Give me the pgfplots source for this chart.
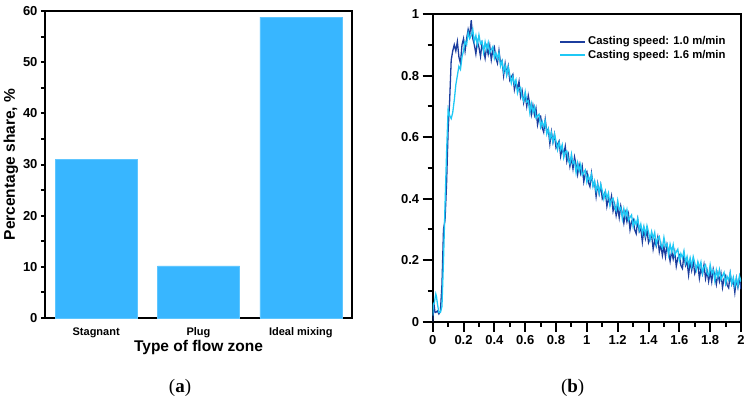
\documentclass[border=0pt]{standalone}
\usepackage{fontspec}
\setmainfont{Liberation Sans}
\newfontfamily\capfont{Liberation Serif}
\usepackage{pgfplots}
\pgfplotsset{compat=1.18}
\definecolor{barblue}{HTML}{38B6FF}
\definecolor{baredge}{HTML}{5EC6FF}
\definecolor{darkline}{HTML}{1C3E9E}
\definecolor{cyanline}{HTML}{1FC8F5}
\begin{document}
\begin{tikzpicture}[x=1pt,y=1pt]
\path[use as bounding box] (0,0) rectangle (751,407);
% ---------------- (b) ----------------
\begin{axis}[
  at={(432.7pt,85.3pt)}, anchor=south west,
  scale only axis, width=308.3pt, height=307.7pt,
  xmin=0, xmax=2, ymin=0, ymax=1,
  xtick={0,0.2,0.4,0.6,0.8,1,1.2,1.4,1.6,1.8,2},
  ytick={0,0.2,0.4,0.6,0.8,1},
  minor x tick num=1, minor y tick num=1,
  tick pos=left, tick align=outside,
  major tick length=10pt, minor tick length=5pt,
  tick style={black, line width=2pt},
  axis line style={line width=1.8pt},
  /pgf/number format/assume math mode=true,
  xticklabel style={font=\bfseries\fontsize{13}{15}\selectfont},
  yticklabel style={font=\bfseries\fontsize{13}{15}\selectfont},
  legend style={at={(rel axis cs:0.40,0.94)}, anchor=north west, draw=none, fill=none,
    font=\bfseries\fontsize{11.3}{13}\selectfont},
  legend cell align=left,
  legend image code/.code={\draw[#1, line width=2pt] (0pt,0pt) -- (25pt,0pt);},
]
\addplot[darkline, line width=1.3pt] coordinates {
(0,0) (0.005,0.04) (0.01,0.05) (0.015,0.03) (0.02,0.03) (0.03,0.035) (0.04,0.025) (0.05,0.035) (0.06,0.12) (0.07,0.30) (0.08,0.33) (0.09,0.45)
(0.10,0.62) (0.11,0.72) (0.12,0.85) (0.13,0.88) (0.14,0.90) (0.15,0.88) (0.16,0.91) (0.17,0.86) (0.18,0.84) (0.19,0.90)
(0.20,0.92) (0.21,0.88) (0.22,0.92) (0.23,0.95) (0.24,0.93) (0.25,0.98) (0.26,0.92) (0.27,0.90) (0.28,0.87) (0.29,0.91)
(0.30,0.892) (0.31,0.862) (0.32,0.904) (0.33,0.883) (0.34,0.856) (0.35,0.893) (0.36,0.869) (0.37,0.897) (0.38,0.851) (0.39,0.882)
(0.40,0.893) (0.41,0.856) (0.42,0.840) (0.43,0.881) (0.44,0.840) (0.45,0.848) (0.46,0.800) (0.47,0.839) (0.48,0.805) (0.49,0.830)
(0.50,0.785) (0.51,0.796) (0.52,0.804) (0.53,0.754) (0.54,0.778) (0.55,0.757) (0.56,0.781) (0.57,0.731) (0.58,0.751) (0.59,0.712)
(0.60,0.737) (0.61,0.700) (0.62,0.735) (0.63,0.707) (0.64,0.673) (0.65,0.703) (0.66,0.672) (0.67,0.693) (0.68,0.640) (0.69,0.664)
(0.70,0.668) (0.71,0.631) (0.72,0.616) (0.73,0.657) (0.74,0.617) (0.75,0.625) (0.76,0.578) (0.77,0.617) (0.78,0.584) (0.79,0.609)
(0.80,0.565) (0.81,0.577) (0.82,0.587) (0.83,0.538) (0.84,0.564) (0.85,0.544) (0.86,0.570) (0.87,0.521) (0.88,0.543) (0.89,0.505)
(0.90,0.532) (0.91,0.497) (0.92,0.535) (0.93,0.509) (0.94,0.478) (0.95,0.510) (0.96,0.482) (0.97,0.505) (0.98,0.455) (0.99,0.481)
(1.00,0.488) (1.01,0.453) (1.02,0.439) (1.03,0.482) (1.04,0.443) (1.05,0.453) (1.06,0.407) (1.07,0.448) (1.08,0.416) (1.09,0.443)
(1.10,0.400) (1.11,0.413) (1.12,0.423) (1.13,0.375) (1.14,0.401) (1.15,0.382) (1.16,0.408) (1.17,0.360) (1.18,0.382) (1.19,0.345)
(1.20,0.372) (1.21,0.338) (1.22,0.376) (1.23,0.351) (1.24,0.320) (1.25,0.353) (1.26,0.325) (1.27,0.349) (1.28,0.299) (1.29,0.326)
(1.30,0.333) (1.31,0.299) (1.32,0.286) (1.33,0.330) (1.34,0.293) (1.35,0.304) (1.36,0.259) (1.37,0.301) (1.38,0.271) (1.39,0.298)
(1.40,0.257) (1.41,0.271) (1.42,0.283) (1.43,0.236) (1.44,0.264) (1.45,0.246) (1.46,0.274) (1.47,0.227) (1.48,0.251) (1.49,0.215)
(1.50,0.244) (1.51,0.211) (1.52,0.250) (1.53,0.226) (1.54,0.196) (1.55,0.230) (1.56,0.204) (1.57,0.228) (1.58,0.180) (1.59,0.207)
(1.60,0.216) (1.61,0.183) (1.62,0.173) (1.63,0.218) (1.64,0.183) (1.65,0.195) (1.66,0.152) (1.67,0.196) (1.68,0.167) (1.69,0.197)
(1.70,0.157) (1.71,0.173) (1.72,0.187) (1.73,0.141) (1.74,0.171) (1.75,0.155) (1.76,0.185) (1.77,0.140) (1.78,0.165) (1.79,0.131)
(1.80,0.162) (1.81,0.130) (1.82,0.171) (1.83,0.149) (1.84,0.121) (1.85,0.156) (1.86,0.131) (1.87,0.157) (1.88,0.111) (1.89,0.140)
(1.90,0.150) (1.91,0.119) (1.92,0.110) (1.93,0.156) (1.94,0.122) (1.95,0.136) (1.96,0.095) (1.97,0.140) (1.98,0.112) (1.99,0.143)
(2.00,0.105)
};
\addlegendentry{Casting speed: 1.0 m/min}
\addplot[cyanline, line width=1.3pt] coordinates {
(0,0.02) (0.005,0.06) (0.01,0.06) (0.02,0.09) (0.025,0.08) (0.03,0.06) (0.04,0.03) (0.05,0.03) (0.06,0.05) (0.07,0.20) (0.08,0.38) (0.09,0.55)
(0.10,0.69) (0.11,0.67) (0.12,0.66) (0.13,0.68) (0.14,0.72) (0.15,0.77) (0.16,0.80) (0.17,0.83) (0.18,0.82) (0.19,0.86)
(0.20,0.88) (0.21,0.91) (0.22,0.90) (0.23,0.94) (0.24,0.92) (0.25,0.93) (0.26,0.95) (0.27,0.91) (0.28,0.93) (0.29,0.90)
(0.30,0.932) (0.31,0.903) (0.32,0.911) (0.33,0.876) (0.34,0.909) (0.35,0.885) (0.36,0.907) (0.37,0.874) (0.38,0.884) (0.39,0.894)
(0.40,0.856) (0.41,0.874) (0.42,0.855) (0.43,0.874) (0.44,0.831) (0.45,0.847) (0.46,0.813) (0.47,0.833) (0.48,0.801) (0.49,0.828)
(0.50,0.803) (0.51,0.775) (0.52,0.797) (0.53,0.772) (0.54,0.786) (0.55,0.743) (0.56,0.760) (0.57,0.762) (0.58,0.730) (0.59,0.717)
(0.60,0.747) (0.61,0.714) (0.62,0.718) (0.63,0.679) (0.64,0.709) (0.65,0.681) (0.66,0.699) (0.67,0.662) (0.68,0.669) (0.69,0.674)
(0.70,0.633) (0.71,0.651) (0.72,0.633) (0.73,0.652) (0.74,0.610) (0.75,0.627) (0.76,0.594) (0.77,0.614) (0.78,0.583) (0.79,0.610)
(0.80,0.586) (0.81,0.559) (0.82,0.583) (0.83,0.559) (0.84,0.575) (0.85,0.533) (0.86,0.552) (0.87,0.555) (0.88,0.525) (0.89,0.513)
(0.90,0.545) (0.91,0.514) (0.92,0.521) (0.93,0.484) (0.94,0.516) (0.95,0.490) (0.96,0.511) (0.97,0.476) (0.98,0.485) (0.99,0.493)
(1.00,0.454) (1.01,0.474) (1.02,0.458) (1.03,0.479) (1.04,0.439) (1.05,0.457) (1.06,0.425) (1.07,0.447) (1.08,0.418) (1.09,0.447)
(1.10,0.425) (1.11,0.399) (1.12,0.424) (1.13,0.401) (1.14,0.418) (1.15,0.377) (1.16,0.397) (1.17,0.401) (1.18,0.372) (1.19,0.361)
(1.20,0.394) (1.21,0.364) (1.22,0.371) (1.23,0.335) (1.24,0.367) (1.25,0.342) (1.26,0.364) (1.27,0.329) (1.28,0.339) (1.29,0.347)
(1.30,0.309) (1.31,0.330) (1.32,0.315) (1.33,0.337) (1.34,0.298) (1.35,0.317) (1.36,0.287) (1.37,0.310) (1.38,0.282) (1.39,0.312)
(1.40,0.291) (1.41,0.266) (1.42,0.293) (1.43,0.271) (1.44,0.290) (1.45,0.250) (1.46,0.271) (1.47,0.277) (1.48,0.249) (1.49,0.240)
(1.50,0.274) (1.51,0.245) (1.52,0.253) (1.53,0.218) (1.54,0.251) (1.55,0.227) (1.56,0.250) (1.57,0.216) (1.58,0.227) (1.59,0.236)
(1.60,0.199) (1.61,0.221) (1.62,0.207) (1.63,0.230) (1.64,0.192) (1.65,0.212) (1.66,0.183) (1.67,0.207) (1.68,0.180) (1.69,0.211)
(1.70,0.191) (1.71,0.168) (1.72,0.195) (1.73,0.175) (1.74,0.194) (1.75,0.156) (1.76,0.178) (1.77,0.185) (1.78,0.158) (1.79,0.150)
(1.80,0.185) (1.81,0.157) (1.82,0.167) (1.83,0.133) (1.84,0.168) (1.85,0.145) (1.86,0.169) (1.87,0.137) (1.88,0.149) (1.89,0.160)
(1.90,0.124) (1.91,0.147) (1.92,0.135) (1.93,0.159) (1.94,0.123) (1.95,0.144) (1.96,0.116) (1.97,0.142) (1.98,0.116) (1.99,0.149)
(2.00,0.130)
};
\addlegendentry{Casting speed: 1.6 m/min}
\end{axis}
% ---------------- (a) ----------------
\begin{axis}[
  at={(45pt,89pt)}, anchor=south west,
  scale only axis, width=307pt, height=307pt,
  xmin=-0.5, xmax=2.5, ymin=0, ymax=60,
  xtick={0,1,2}, xticklabels={Stagnant,Plug,Ideal mixing},
  ytick={0,10,...,60}, minor y tick num=1,
  tick pos=left, tick align=outside,
  major tick length=4pt, minor tick length=4pt,
  tick style={black, line width=2pt},
  major x tick style={draw=none},
  axis line style={line width=1.8pt},
  /pgf/number format/assume math mode=true,
  yticklabel style={font=\bfseries\fontsize{13}{15}\selectfont},
  xticklabel style={font=\bfseries\fontsize{11}{13}\selectfont, yshift=-2pt},
  xlabel={Type of flow zone},
  ylabel={Percentage share, \%},
  label style={font=\bfseries\fontsize{15.5}{17}\selectfont},
  xlabel style={yshift=4pt},
  ylabel style={yshift=-2pt},
]
\addplot[ybar, bar width=82pt, fill=barblue, draw=baredge, line width=0.6pt]
  coordinates {(0,31.0) (1,10.2) (2,58.8)};
\end{axis}
\node[font=\capfont\fontsize{19}{21}\selectfont] at (180,19) {(\textbf{a})};
\node[font=\capfont\fontsize{19}{21}\selectfont] at (572.7,19) {(\textbf{b})};
\end{tikzpicture}
\end{document}
